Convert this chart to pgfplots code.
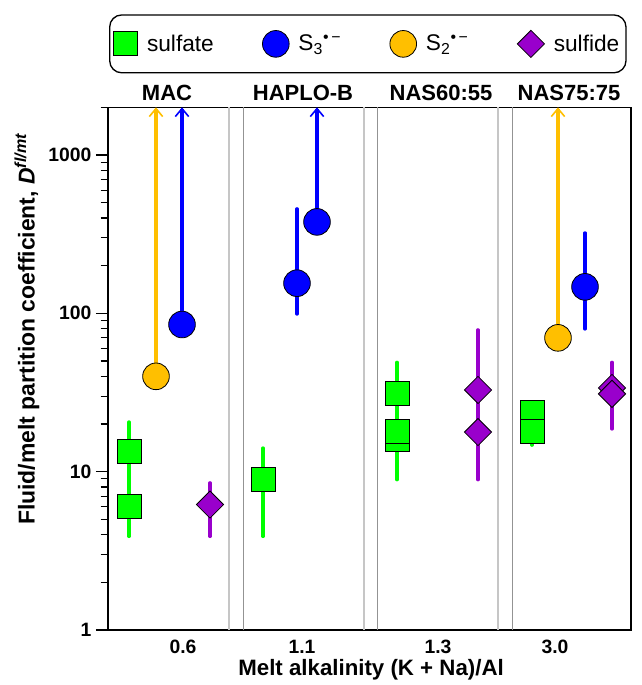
\documentclass[border=0pt]{standalone}
\usepackage{pgfplots}
\pgfplotsset{compat=1.18}
\usepackage{fontspec}
\setmainfont{Liberation Sans}
\usetikzlibrary{arrows.meta}
\definecolor{sgreen}{RGB}{0,255,0}
\definecolor{sblue}{RGB}{0,0,255}
\definecolor{syellow}{RGB}{255,191,0}
\definecolor{spurple}{RGB}{153,0,204}
\tikzset{
  sulfate/.style={only marks, mark=square*, mark size=9pt, mark options={fill=sgreen, draw=black, line width=0.6pt, sharp corners}},
  sthree/.style={only marks, mark=*, mark size=10pt, mark options={fill=sblue, draw=black, line width=0.6pt}},
  stwo/.style={only marks, mark=*, mark size=10pt, mark options={fill=syellow, draw=black, line width=0.6pt}},
  sulfide/.style={only marks, mark=square*, mark size=7.2pt, mark options={rotate=45, fill=spurple, draw=black, line width=0.6pt, sharp corners}},
  ebar/.style={line width=2.5pt, line cap=round},
  uarrow/.style={line width=2.5pt, -{Straight Barb[length=6pt,width=10pt,line width=1.2pt]}},
  sepA/.style={gray!45, line width=0.9pt},
  sepB/.style={gray!85, line width=0.7pt},
}
\begin{document}
\begin{tikzpicture}
\useasboundingbox (-81pt,-41.25pt) rectangle (400.5pt,472.5pt);
\begin{axis}[
  at={(0,0)}, anchor=south west,
  scale only axis, width=392.25pt, height=392pt,
  xmin=108, xmax=631, ymode=log, ymin=1, ymax=2000,
  clip=false,
  axis line style={line width=1pt},
  xtick={183,302,438,555}, xticklabels={0.6,1.1,1.3,3.0},
  xtick style={draw=none},
  xticklabel style={yshift=5pt},
  ytick={1,10,100,1000}, yticklabels={1,10,100,1000},
  minor ytick={2,3,4,5,6,7,8,9,20,30,40,50,60,70,80,90,200,300,400,500,600,700,800,900,2000},
  ytick pos=left, tick align=outside,
  major tick length=9pt, minor tick length=5.5pt,
  every tick/.style={black, line width=0.8pt},
  ticklabel style={font=\fontsize{14.5}{16}\selectfont\bfseries},
  xlabel={Melt alkalinity (K + Na)/Al},
  ylabel={Fluid/melt partition coefficient, \textit{D}\textsuperscript{\textit{fl/mt}}},
  every axis x label/.style={at={(axis description cs:0.503,-0.088)}, anchor=base, font=\fontsize{16.7}{19}\selectfont\bfseries},
  every axis y label/.style={at={(axis description cs:-0.155,0.576)}, rotate=90, anchor=center, font=\fontsize{17.2}{19}\selectfont\bfseries},
  legend columns=4,
  legend style={at={(axis description cs:0.002,1.178)}, anchor=north west,
    draw=black, line width=1pt, rounded corners=9pt,
    font=\fontsize{17}{20}\selectfont,
    inner xsep=3pt, inner ysep=11.5pt,
    /tikz/every odd column/.append style={column sep=5pt},
    /tikz/every even column/.append style={column sep=34.5pt}},
  legend image post style={sharp corners},
]
\addlegendimage{sulfate}\addlegendentry{sulfate}
\addlegendimage{sthree}\addlegendentry{S\textsubscript{3}\textsuperscript{•\,−}}
\addlegendimage{stwo}\addlegendentry{S\textsubscript{2}\textsuperscript{•\,−}}
\addlegendimage{sulfide}\addlegendentry{sulfide}

% group separators
\addplot[forget plot, sepA] coordinates {(229,1) (229,2000)};
\addplot[forget plot, sepB] coordinates {(243,1) (243,2000)};
\addplot[forget plot, sepA] coordinates {(364,1) (364,2000)};
\addplot[forget plot, sepB] coordinates {(377,1) (377,2000)};
\addplot[forget plot, sepA] coordinates {(498,1) (498,2000)};
\addplot[forget plot, sepB] coordinates {(512,1) (512,2000)};

% error bars
\addplot[forget plot, ebar, sgreen] coordinates {(129,3.9) (129,20.6)};
\addplot[forget plot, ebar, spurple] coordinates {(210,3.9) (210,8.5)};
\addplot[forget plot, ebar, sgreen] coordinates {(263,3.9) (263,14.1)};
\addplot[forget plot, ebar, sblue] coordinates {(297,99) (297,457)};
\addplot[forget plot, ebar, sgreen] coordinates {(397,8.9) (397,49)};
\addplot[forget plot, ebar, spurple] coordinates {(478,8.9) (478,78.6)};
\addplot[forget plot, ebar, sgreen] coordinates {(532,14.7) (532,25)};
\addplot[forget plot, ebar, sblue] coordinates {(585,79.7) (585,322)};
\addplot[forget plot, ebar, spurple] coordinates {(612,18.6) (612,49)};

% lower-limit arrows
\addplot[forget plot, uarrow, syellow] coordinates {(156,40) (156,2000)};
\addplot[forget plot, uarrow, sblue] coordinates {(182,85) (182,2000)};
\addplot[forget plot, uarrow, sblue] coordinates {(317,378) (317,2000)};
\addplot[forget plot, uarrow, syellow] coordinates {(558,70) (558,2000)};

% sulfate
\addplot[forget plot, sulfate] coordinates {(129,13.5) (129,6.0) (263,9.0) (397,15.9) (397,17.9) (397,31) (532,23.8) (532,18.0)};
% S3
\addplot[forget plot, sthree] coordinates {(182,85) (297,155) (317,378) (585,147)};
% S2
\addplot[forget plot, stwo] coordinates {(156,40) (558,70)};
% sulfide
\addplot[forget plot, sulfide] coordinates {(210,6.2) (478,32.8) (478,17.8) (612,33.8) (612,31)};

\node[anchor=base, font=\fontsize{16.5}{19}\selectfont\bfseries] at ([yshift=5.25pt]axis cs:167,2000) {MAC};
\node[anchor=base, font=\fontsize{16.5}{19}\selectfont\bfseries] at ([yshift=5.25pt]axis cs:303,2000) {HAPLO-B};
\node[anchor=base, font=\fontsize{16.5}{19}\selectfont\bfseries] at ([yshift=5.25pt]axis cs:441,2000) {NAS60:55};
\node[anchor=base, font=\fontsize{16.5}{19}\selectfont\bfseries] at ([yshift=5.25pt]axis cs:569,2000) {NAS75:75};
\end{axis}
\end{tikzpicture}
\end{document}
